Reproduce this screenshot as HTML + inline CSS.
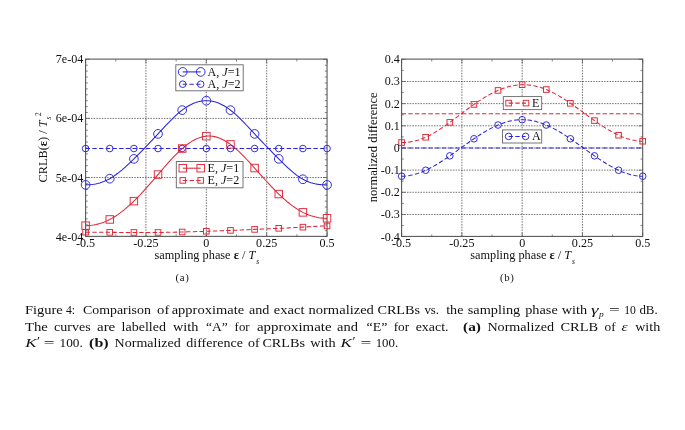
<!DOCTYPE html>
<html><head><meta charset="utf-8"><title>Figure 4</title>
<style>html,body{margin:0;padding:0;background:#fff}body{width:685px;height:430px;overflow:hidden}svg{display:block}</style>
</head><body>
<svg width="685" height="430" viewBox="0 0 685 430" font-family="'Liberation Serif', serif" fill="#111">
<path d="M145.96 59.3V236.6M206.32 59.3V236.6M266.69 59.3V236.6M85.6 177.5H327.05M85.6 118.4H327.05" fill="none" stroke="#333" stroke-width="0.7" stroke-dasharray="1.5 1.2"/>
<path d="M85.6 236.6v-4M85.6 59.3v4M145.96 236.6v-4M145.96 59.3v4M206.32 236.6v-4M206.32 59.3v4M266.69 236.6v-4M266.69 59.3v4M327.05 236.6v-4M327.05 59.3v4M115.78 236.6v-2.2M115.78 59.3v2.2M176.14 236.6v-2.2M176.14 59.3v2.2M236.51 236.6v-2.2M236.51 59.3v2.2M296.87 236.6v-2.2M296.87 59.3v2.2M85.6 236.6h4M327.05 236.6h-4M85.6 177.5h4M327.05 177.5h-4M85.6 118.4h4M327.05 118.4h-4M85.6 59.3h4M327.05 59.3h-4M85.6 230.69h2.2M327.05 230.69h-2.2M85.6 224.78h2.2M327.05 224.78h-2.2M85.6 218.87h2.2M327.05 218.87h-2.2M85.6 212.96h2.2M327.05 212.96h-2.2M85.6 207.05h2.2M327.05 207.05h-2.2M85.6 201.14h2.2M327.05 201.14h-2.2M85.6 195.23h2.2M327.05 195.23h-2.2M85.6 189.32h2.2M327.05 189.32h-2.2M85.6 183.41h2.2M327.05 183.41h-2.2M85.6 171.59h2.2M327.05 171.59h-2.2M85.6 165.68h2.2M327.05 165.68h-2.2M85.6 159.77h2.2M327.05 159.77h-2.2M85.6 153.86h2.2M327.05 153.86h-2.2M85.6 147.95h2.2M327.05 147.95h-2.2M85.6 142.04h2.2M327.05 142.04h-2.2M85.6 136.13h2.2M327.05 136.13h-2.2M85.6 130.22h2.2M327.05 130.22h-2.2M85.6 124.31h2.2M327.05 124.31h-2.2M85.6 112.49h2.2M327.05 112.49h-2.2M85.6 106.58h2.2M327.05 106.58h-2.2M85.6 100.67h2.2M327.05 100.67h-2.2M85.6 94.76h2.2M327.05 94.76h-2.2M85.6 88.85h2.2M327.05 88.85h-2.2M85.6 82.94h2.2M327.05 82.94h-2.2M85.6 77.03h2.2M327.05 77.03h-2.2M85.6 71.12h2.2M327.05 71.12h-2.2M85.6 65.21h2.2M327.05 65.21h-2.2" fill="none" stroke="#505050" stroke-width="0.7"/>
<rect x="85.6" y="59.1" width="241.45" height="177.25" fill="none" stroke="#505050" stroke-width="1.05"/>
<path d="M85.6 148.54L109.74 148.54L133.89 148.54L158.03 148.54L182.18 148.54L206.32 148.54L230.47 148.54L254.62 148.54L278.76 148.54L302.9 148.54L327.05 148.54" fill="none" stroke="#2a24d6" stroke-width="1.05" stroke-dasharray="4.4 2.3" stroke-linejoin="round"/>
<path d="M85.6 232.17L87.61 232.17L89.62 232.18L91.64 232.19L93.65 232.2L95.66 232.21L97.67 232.23L99.68 232.25L101.7 232.27L103.71 232.29L105.72 232.31L107.73 232.33L109.74 232.34L111.76 232.36L113.77 232.37L115.78 232.39L117.79 232.4L119.81 232.41L121.82 232.42L123.83 232.43L125.84 232.43L127.85 232.44L129.87 232.45L131.88 232.46L133.89 232.46L135.9 232.47L137.91 232.48L139.93 232.49L141.94 232.49L143.95 232.5L145.96 232.5L147.97 232.5L149.99 232.5L152 232.5L154.01 232.49L156.02 232.48L158.03 232.46L160.05 232.44L162.06 232.42L164.07 232.39L166.08 232.35L168.1 232.32L170.11 232.28L172.12 232.24L174.13 232.19L176.14 232.14L178.16 232.09L180.17 232.04L182.18 231.99L184.19 231.94L186.2 231.88L188.22 231.83L190.23 231.77L192.24 231.71L194.25 231.66L196.26 231.6L198.28 231.54L200.29 231.47L202.3 231.41L204.31 231.35L206.32 231.28L208.34 231.21L210.35 231.14L212.36 231.07L214.37 231L216.39 230.93L218.4 230.86L220.41 230.78L222.42 230.71L224.43 230.63L226.45 230.55L228.46 230.47L230.47 230.39L232.48 230.31L234.49 230.23L236.51 230.15L238.52 230.07L240.53 229.99L242.54 229.9L244.55 229.82L246.57 229.74L248.58 229.65L250.59 229.56L252.6 229.48L254.62 229.39L256.63 229.3L258.64 229.21L260.65 229.12L262.66 229.04L264.68 228.95L266.69 228.86L268.7 228.77L270.71 228.68L272.72 228.59L274.74 228.5L276.75 228.41L278.76 228.33L280.77 228.24L282.78 228.15L284.8 228.07L286.81 227.98L288.82 227.89L290.83 227.79L292.84 227.7L294.86 227.6L296.87 227.49L298.88 227.38L300.89 227.27L302.9 227.14L304.92 227.01L306.93 226.88L308.94 226.75L310.95 226.61L312.97 226.48L314.98 226.36L316.99 226.25L319 226.16L321.01 226.08L323.03 226.01L325.04 225.98L327.05 225.96" fill="none" stroke="#e22636" stroke-width="1.05" stroke-dasharray="4.4 2.3" stroke-linejoin="round"/>
<path d="M85.6 184.89L87.61 184.85L89.62 184.74L91.64 184.55L93.65 184.28L95.66 183.93L97.67 183.48L99.68 182.94L101.7 182.3L103.71 181.56L105.72 180.71L107.73 179.76L109.74 178.68L111.76 177.49L113.77 176.19L115.78 174.79L117.79 173.29L119.81 171.71L121.82 170.05L123.83 168.31L125.84 166.52L127.85 164.67L129.87 162.78L131.88 160.85L133.89 158.88L135.9 156.9L137.91 154.89L139.93 152.87L141.94 150.82L143.95 148.76L145.96 146.68L147.97 144.58L149.99 142.47L152 140.34L154.01 138.2L156.02 136.05L158.03 133.88L160.05 131.71L162.06 129.54L164.07 127.37L166.08 125.23L168.1 123.12L170.11 121.05L172.12 119.03L174.13 117.08L176.14 115.2L178.16 113.41L180.17 111.72L182.18 110.13L184.19 108.65L186.2 107.3L188.22 106.06L190.23 104.95L192.24 103.96L194.25 103.1L196.26 102.37L198.28 101.76L200.29 101.29L202.3 100.95L204.31 100.74L206.32 100.67L208.34 100.74L210.35 100.94L212.36 101.28L214.37 101.75L216.39 102.36L218.4 103.09L220.41 103.95L222.42 104.94L224.43 106.06L226.45 107.29L228.46 108.65L230.47 110.13L232.48 111.72L234.49 113.42L236.51 115.22L238.52 117.1L240.53 119.05L242.54 121.07L244.55 123.14L246.57 125.25L248.58 127.39L250.59 129.55L252.6 131.72L254.62 133.88L256.63 136.04L258.64 138.17L260.65 140.3L262.66 142.41L264.68 144.51L266.69 146.6L268.7 148.67L270.71 150.74L272.72 152.79L274.74 154.83L276.75 156.86L278.76 158.88L280.77 160.89L282.78 162.88L284.8 164.84L286.81 166.76L288.82 168.62L290.83 170.42L292.84 172.15L294.86 173.79L296.87 175.33L298.88 176.77L300.89 178.08L302.9 179.27L304.92 180.33L306.93 181.25L308.94 182.04L310.95 182.72L312.97 183.29L314.98 183.76L316.99 184.14L319 184.43L321.01 184.64L323.03 184.78L325.04 184.86L327.05 184.89" fill="none" stroke="#2a24d6" stroke-width="1.05" stroke-linejoin="round"/>
<path d="M85.6 225.67L87.61 225.62L89.62 225.5L91.64 225.28L93.65 224.99L95.66 224.6L97.67 224.13L99.68 223.57L101.7 222.93L103.71 222.19L105.72 221.37L107.73 220.46L109.74 219.46L111.76 218.37L113.77 217.2L115.78 215.94L117.79 214.6L119.81 213.17L121.82 211.67L123.83 210.09L125.84 208.44L127.85 206.72L129.87 204.93L131.88 203.07L133.89 201.14L135.9 199.15L137.91 197.11L139.93 195.01L141.94 192.86L143.95 190.67L145.96 188.44L147.97 186.18L149.99 183.89L152 181.58L154.01 179.24L156.02 176.9L158.03 174.55L160.05 172.19L162.06 169.84L164.07 167.5L166.08 165.18L168.1 162.9L170.11 160.65L172.12 158.46L174.13 156.33L176.14 154.26L178.16 152.26L180.17 150.36L182.18 148.54L184.19 146.83L186.2 145.22L188.22 143.73L190.23 142.35L192.24 141.1L194.25 139.97L196.26 138.97L198.28 138.11L200.29 137.39L202.3 136.82L204.31 136.4L206.32 136.13L208.34 136.02L210.35 136.07L212.36 136.27L214.37 136.63L216.39 137.12L218.4 137.77L220.41 138.55L222.42 139.46L224.43 140.51L226.45 141.68L228.46 142.98L230.47 144.4L232.48 145.94L234.49 147.59L236.51 149.33L238.52 151.17L240.53 153.09L242.54 155.08L244.55 157.13L246.57 159.24L248.58 161.4L250.59 163.59L252.6 165.81L254.62 168.04L256.63 170.29L258.64 172.55L260.65 174.8L262.66 177.04L264.68 179.27L266.69 181.48L268.7 183.67L270.71 185.83L272.72 187.95L274.74 190.03L276.75 192.07L278.76 194.05L280.77 195.97L282.78 197.83L284.8 199.63L286.81 201.36L288.82 203.01L290.83 204.6L292.84 206.1L294.86 207.53L296.87 208.87L298.88 210.13L300.89 211.3L302.9 212.37L304.92 213.35L306.93 214.23L308.94 215.02L310.95 215.73L312.97 216.34L314.98 216.86L316.99 217.3L319 217.66L321.01 217.93L323.03 218.13L325.04 218.24L327.05 218.28" fill="none" stroke="#e22636" stroke-width="1.05" stroke-linejoin="round"/>
<circle cx="85.6" cy="148.54" r="3.3" fill="none" stroke="#2a24d6" stroke-width="0.95"/>
<circle cx="109.74" cy="148.54" r="3.3" fill="none" stroke="#2a24d6" stroke-width="0.95"/>
<circle cx="133.89" cy="148.54" r="3.3" fill="none" stroke="#2a24d6" stroke-width="0.95"/>
<circle cx="158.03" cy="148.54" r="3.3" fill="none" stroke="#2a24d6" stroke-width="0.95"/>
<circle cx="182.18" cy="148.54" r="3.3" fill="none" stroke="#2a24d6" stroke-width="0.95"/>
<circle cx="206.32" cy="148.54" r="3.3" fill="none" stroke="#2a24d6" stroke-width="0.95"/>
<circle cx="230.47" cy="148.54" r="3.3" fill="none" stroke="#2a24d6" stroke-width="0.95"/>
<circle cx="254.62" cy="148.54" r="3.3" fill="none" stroke="#2a24d6" stroke-width="0.95"/>
<circle cx="278.76" cy="148.54" r="3.3" fill="none" stroke="#2a24d6" stroke-width="0.95"/>
<circle cx="302.9" cy="148.54" r="3.3" fill="none" stroke="#2a24d6" stroke-width="0.95"/>
<circle cx="327.05" cy="148.54" r="3.3" fill="none" stroke="#2a24d6" stroke-width="0.95"/>
<rect x="82.8" y="229.37" width="5.6" height="5.6" fill="none" stroke="#e22636" stroke-width="0.95"/>
<rect x="106.94" y="229.54" width="5.6" height="5.6" fill="none" stroke="#e22636" stroke-width="0.95"/>
<rect x="131.09" y="229.66" width="5.6" height="5.6" fill="none" stroke="#e22636" stroke-width="0.95"/>
<rect x="155.23" y="229.66" width="5.6" height="5.6" fill="none" stroke="#e22636" stroke-width="0.95"/>
<rect x="179.38" y="229.19" width="5.6" height="5.6" fill="none" stroke="#e22636" stroke-width="0.95"/>
<rect x="203.52" y="228.48" width="5.6" height="5.6" fill="none" stroke="#e22636" stroke-width="0.95"/>
<rect x="227.67" y="227.59" width="5.6" height="5.6" fill="none" stroke="#e22636" stroke-width="0.95"/>
<rect x="251.81" y="226.59" width="5.6" height="5.6" fill="none" stroke="#e22636" stroke-width="0.95"/>
<rect x="275.96" y="225.53" width="5.6" height="5.6" fill="none" stroke="#e22636" stroke-width="0.95"/>
<rect x="300.1" y="224.34" width="5.6" height="5.6" fill="none" stroke="#e22636" stroke-width="0.95"/>
<rect x="324.25" y="223.16" width="5.6" height="5.6" fill="none" stroke="#e22636" stroke-width="0.95"/>
<circle cx="85.6" cy="184.89" r="4.35" fill="none" stroke="#2a24d6" stroke-width="0.95"/>
<circle cx="109.74" cy="178.68" r="4.35" fill="none" stroke="#2a24d6" stroke-width="0.95"/>
<circle cx="133.89" cy="158.88" r="4.35" fill="none" stroke="#2a24d6" stroke-width="0.95"/>
<circle cx="158.03" cy="133.88" r="4.35" fill="none" stroke="#2a24d6" stroke-width="0.95"/>
<circle cx="182.18" cy="110.13" r="4.35" fill="none" stroke="#2a24d6" stroke-width="0.95"/>
<circle cx="206.32" cy="100.67" r="4.35" fill="none" stroke="#2a24d6" stroke-width="0.95"/>
<circle cx="230.47" cy="110.13" r="4.35" fill="none" stroke="#2a24d6" stroke-width="0.95"/>
<circle cx="254.62" cy="133.88" r="4.35" fill="none" stroke="#2a24d6" stroke-width="0.95"/>
<circle cx="278.76" cy="158.88" r="4.35" fill="none" stroke="#2a24d6" stroke-width="0.95"/>
<circle cx="302.9" cy="179.27" r="4.35" fill="none" stroke="#2a24d6" stroke-width="0.95"/>
<circle cx="327.05" cy="184.89" r="4.35" fill="none" stroke="#2a24d6" stroke-width="0.95"/>
<rect x="81.85" y="221.92" width="7.5" height="7.5" fill="none" stroke="#e22636" stroke-width="0.95"/>
<rect x="105.99" y="215.71" width="7.5" height="7.5" fill="none" stroke="#e22636" stroke-width="0.95"/>
<rect x="130.14" y="197.39" width="7.5" height="7.5" fill="none" stroke="#e22636" stroke-width="0.95"/>
<rect x="154.28" y="170.8" width="7.5" height="7.5" fill="none" stroke="#e22636" stroke-width="0.95"/>
<rect x="178.43" y="144.79" width="7.5" height="7.5" fill="none" stroke="#e22636" stroke-width="0.95"/>
<rect x="202.57" y="132.38" width="7.5" height="7.5" fill="none" stroke="#e22636" stroke-width="0.95"/>
<rect x="226.72" y="140.65" width="7.5" height="7.5" fill="none" stroke="#e22636" stroke-width="0.95"/>
<rect x="250.87" y="164.29" width="7.5" height="7.5" fill="none" stroke="#e22636" stroke-width="0.95"/>
<rect x="275.01" y="190.3" width="7.5" height="7.5" fill="none" stroke="#e22636" stroke-width="0.95"/>
<rect x="299.15" y="208.62" width="7.5" height="7.5" fill="none" stroke="#e22636" stroke-width="0.95"/>
<rect x="323.3" y="214.53" width="7.5" height="7.5" fill="none" stroke="#e22636" stroke-width="0.95"/>
<text x="83.3" y="240.6" text-anchor="end" font-size="12.1">4e-04</text>
<text x="83.3" y="181.5" text-anchor="end" font-size="12.1">5e-04</text>
<text x="83.3" y="122.4" text-anchor="end" font-size="12.1">6e-04</text>
<text x="83.3" y="63.3" text-anchor="end" font-size="12.1">7e-04</text>
<text x="85.6" y="247.2" text-anchor="middle" font-size="12.1">-0.5</text>
<text x="145.96" y="247.2" text-anchor="middle" font-size="12.1">-0.25</text>
<text x="206.32" y="247.2" text-anchor="middle" font-size="12.1">0</text>
<text x="266.69" y="247.2" text-anchor="middle" font-size="12.1">0.25</text>
<text x="327.05" y="247.2" text-anchor="middle" font-size="12.1">0.5</text>
<rect x="175.8" y="64.8" width="67.4" height="26" fill="#fff" stroke="#666" stroke-width="0.9"/>
<path d="M182.7 71.9H200.7" stroke="#2a24d6" stroke-width="1.05" fill="none"/>
<circle cx="182.7" cy="71.9" r="4.35" fill="none" stroke="#2a24d6" stroke-width="0.95"/>
<circle cx="200.7" cy="71.9" r="4.35" fill="none" stroke="#2a24d6" stroke-width="0.95"/>
<text x="207.5" y="75.9" text-anchor="start" font-size="12.1">A, <tspan font-style="italic">J</tspan>=1</text>
<path d="M182.7 84.2H200.7" stroke="#2a24d6" stroke-width="1.05" stroke-dasharray="4.4 2.3" fill="none"/>
<circle cx="182.7" cy="84.2" r="3.3" fill="none" stroke="#2a24d6" stroke-width="0.95"/>
<circle cx="200.7" cy="84.2" r="3.3" fill="none" stroke="#2a24d6" stroke-width="0.95"/>
<text x="207.5" y="88.2" text-anchor="start" font-size="12.1">A, <tspan font-style="italic">J</tspan>=2</text>
<rect x="176.3" y="161.5" width="66.7" height="26.3" fill="#fff" stroke="#666" stroke-width="0.9"/>
<path d="M182.8 168.2H200.7" stroke="#e22636" stroke-width="1.05" fill="none"/>
<rect x="179.05" y="164.45" width="7.5" height="7.5" fill="none" stroke="#e22636" stroke-width="0.95"/>
<rect x="196.95" y="164.45" width="7.5" height="7.5" fill="none" stroke="#e22636" stroke-width="0.95"/>
<text x="207.5" y="172.2" text-anchor="start" font-size="12.1">E, <tspan font-style="italic">J</tspan>=1</text>
<path d="M182.8 180.4H200.7" stroke="#e22636" stroke-width="1.05" stroke-dasharray="4.4 2.3" fill="none"/>
<rect x="180" y="177.6" width="5.6" height="5.6" fill="none" stroke="#e22636" stroke-width="0.95"/>
<rect x="197.9" y="177.6" width="5.6" height="5.6" fill="none" stroke="#e22636" stroke-width="0.95"/>
<text x="207.5" y="184.4" text-anchor="start" font-size="12.1">E, <tspan font-style="italic">J</tspan>=2</text>
<text x="206.8" y="258.9" text-anchor="middle" font-size="12.3">sampling phase <tspan font-weight="bold">ε</tspan> / <tspan font-style="italic">T</tspan><tspan font-style="italic" font-size="7.5" dx="0.9" dy="5">s</tspan></text>
<text transform="translate(47.2 182.4) rotate(-90)" font-size="12.3">CRLB(<tspan font-weight="bold">ε</tspan>) / <tspan font-style="italic">T</tspan><tspan font-style="italic" font-size="7.5" dx="1" dy="4.2">s</tspan><tspan font-size="7.5" dx="0.6" dy="-10.6">2</tspan></text>
<text x="182.5" y="280.5" text-anchor="middle" font-size="10.8" letter-spacing="0.6">(a)</text>
<path d="M461.88 59.3V236.65M522.15 59.3V236.65M582.43 59.3V236.65M401.6 214.48H642.7M401.6 192.31H642.7M401.6 170.14H642.7M401.6 147.97H642.7M401.6 125.81H642.7M401.6 103.64H642.7M401.6 81.47H642.7" fill="none" stroke="#333" stroke-width="0.7" stroke-dasharray="1.5 1.2"/>
<path d="M401.6 236.65v-4M401.6 59.3v4M461.88 236.65v-4M461.88 59.3v4M522.15 236.65v-4M522.15 59.3v4M582.43 236.65v-4M582.43 59.3v4M642.7 236.65v-4M642.7 59.3v4M431.74 236.65v-2.2M431.74 59.3v2.2M492.01 236.65v-2.2M492.01 59.3v2.2M552.29 236.65v-2.2M552.29 59.3v2.2M612.56 236.65v-2.2M612.56 59.3v2.2M401.6 236.65h4M642.7 236.65h-4M401.6 214.48h4M642.7 214.48h-4M401.6 192.31h4M642.7 192.31h-4M401.6 170.14h4M642.7 170.14h-4M401.6 147.97h4M642.7 147.97h-4M401.6 125.81h4M642.7 125.81h-4M401.6 103.64h4M642.7 103.64h-4M401.6 81.47h4M642.7 81.47h-4M401.6 59.3h4M642.7 59.3h-4M401.6 225.57h2.2M642.7 225.57h-2.2M401.6 203.4h2.2M642.7 203.4h-2.2M401.6 181.23h2.2M642.7 181.23h-2.2M401.6 159.06h2.2M642.7 159.06h-2.2M401.6 136.89h2.2M642.7 136.89h-2.2M401.6 114.72h2.2M642.7 114.72h-2.2M401.6 92.55h2.2M642.7 92.55h-2.2M401.6 70.38h2.2M642.7 70.38h-2.2" fill="none" stroke="#505050" stroke-width="0.7"/>
<rect x="401.6" y="59.1" width="241.1" height="177.3" fill="none" stroke="#505050" stroke-width="1.05"/>
<path d="M401.6 113.72L642.7 113.72" fill="none" stroke="#e22636" stroke-width="1.05" stroke-dasharray="4.4 2.3" stroke-linejoin="round"/>
<path d="M401.6 147.97L642.7 147.97" fill="none" stroke="#2a24d6" stroke-width="1.05" stroke-dasharray="4.4 2.3" stroke-linejoin="round"/>
<path d="M401.6 142.54L403.61 142.51L405.62 142.4L407.63 142.21L409.64 141.96L411.65 141.63L413.66 141.22L415.66 140.74L417.67 140.19L419.68 139.56L421.69 138.86L423.7 138.08L425.71 137.22L427.72 136.29L429.73 135.29L431.74 134.23L433.75 133.1L435.76 131.91L437.77 130.67L439.77 129.38L441.78 128.05L443.79 126.68L445.8 125.27L447.81 123.83L449.82 122.37L451.83 120.88L453.84 119.38L455.85 117.87L457.86 116.34L459.87 114.82L461.88 113.29L463.88 111.77L465.89 110.26L467.9 108.77L469.91 107.29L471.92 105.84L473.93 104.41L475.94 103.02L477.95 101.66L479.96 100.34L481.97 99.06L483.98 97.82L485.99 96.62L487.99 95.47L490 94.36L492.01 93.3L494.02 92.3L496.03 91.34L498.04 90.45L500.05 89.61L502.06 88.83L504.07 88.11L506.08 87.45L508.09 86.86L510.1 86.33L512.1 85.87L514.11 85.49L516.12 85.17L518.13 84.93L520.14 84.77L522.15 84.68L524.16 84.68L526.17 84.75L528.18 84.9L530.19 85.13L532.2 85.43L534.21 85.81L536.21 86.26L538.22 86.78L540.23 87.37L542.24 88.03L544.25 88.76L546.26 89.56L548.27 90.42L550.28 91.35L552.29 92.34L554.3 93.38L556.31 94.47L558.32 95.61L560.32 96.8L562.33 98.03L564.34 99.3L566.35 100.6L568.36 101.94L570.37 103.3L572.38 104.69L574.39 106.11L576.4 107.53L578.41 108.98L580.42 110.43L582.43 111.89L584.43 113.36L586.44 114.82L588.45 116.28L590.46 117.73L592.47 119.17L594.48 120.6L596.49 122L598.5 123.39L600.51 124.75L602.52 126.08L604.53 127.38L606.54 128.64L608.54 129.86L610.55 131.03L612.56 132.16L614.57 133.24L616.58 134.26L618.59 135.23L620.6 136.13L622.61 136.97L624.62 137.74L626.63 138.44L628.64 139.07L630.64 139.62L632.65 140.1L634.66 140.49L636.67 140.8L638.68 141.03L640.69 141.17L642.7 141.21" fill="none" stroke="#e22636" stroke-width="1.05" stroke-dasharray="4.4 2.3" stroke-linejoin="round"/>
<path d="M401.6 176.24L403.61 176.19L405.62 176.05L407.63 175.83L409.64 175.51L411.65 175.11L413.66 174.64L415.66 174.08L417.67 173.45L419.68 172.75L421.69 171.98L423.7 171.15L425.71 170.25L427.72 169.3L429.73 168.29L431.74 167.23L433.75 166.11L435.76 164.95L437.77 163.75L439.77 162.51L441.78 161.24L443.79 159.93L445.8 158.59L447.81 157.23L449.82 155.84L451.83 154.44L453.84 153.02L455.85 151.59L457.86 150.15L459.87 148.71L461.88 147.26L463.88 145.82L465.89 144.39L467.9 142.96L469.91 141.55L471.92 140.15L473.93 138.77L475.94 137.42L477.95 136.1L479.96 134.8L481.97 133.54L483.98 132.32L485.99 131.13L487.99 129.99L490 128.89L492.01 127.85L494.02 126.85L496.03 125.91L498.04 125.03L500.05 124.21L502.06 123.46L504.07 122.76L506.08 122.14L508.09 121.58L510.1 121.09L512.1 120.68L514.11 120.33L516.12 120.06L518.13 119.87L520.14 119.75L522.15 119.71L524.16 119.75L526.17 119.87L528.18 120.06L530.19 120.33L532.2 120.68L534.21 121.09L536.21 121.58L538.22 122.14L540.23 122.76L542.24 123.46L544.25 124.21L546.26 125.03L548.27 125.91L550.28 126.85L552.29 127.85L554.3 128.89L556.31 129.99L558.32 131.13L560.32 132.32L562.33 133.54L564.34 134.8L566.35 136.1L568.36 137.42L570.37 138.77L572.38 140.15L574.39 141.55L576.4 142.96L578.41 144.39L580.42 145.82L582.43 147.26L584.43 148.71L586.44 150.15L588.45 151.59L590.46 153.02L592.47 154.44L594.48 155.84L596.49 157.23L598.5 158.59L600.51 159.93L602.52 161.24L604.53 162.51L606.54 163.75L608.54 164.95L610.55 166.11L612.56 167.23L614.57 168.29L616.58 169.3L618.59 170.25L620.6 171.15L622.61 171.98L624.62 172.75L626.63 173.45L628.64 174.08L630.64 174.64L632.65 175.11L634.66 175.51L636.67 175.83L638.68 176.05L640.69 176.19L642.7 176.24" fill="none" stroke="#2a24d6" stroke-width="1.05" stroke-dasharray="4.4 2.3" stroke-linejoin="round"/>
<rect x="398.8" y="139.74" width="5.6" height="5.6" fill="none" stroke="#e22636" stroke-width="0.95"/>
<rect x="422.91" y="134.42" width="5.6" height="5.6" fill="none" stroke="#e22636" stroke-width="0.95"/>
<rect x="447.02" y="119.57" width="5.6" height="5.6" fill="none" stroke="#e22636" stroke-width="0.95"/>
<rect x="471.13" y="101.61" width="5.6" height="5.6" fill="none" stroke="#e22636" stroke-width="0.95"/>
<rect x="495.24" y="87.65" width="5.6" height="5.6" fill="none" stroke="#e22636" stroke-width="0.95"/>
<rect x="519.35" y="81.88" width="5.6" height="5.6" fill="none" stroke="#e22636" stroke-width="0.95"/>
<rect x="543.46" y="86.76" width="5.6" height="5.6" fill="none" stroke="#e22636" stroke-width="0.95"/>
<rect x="567.57" y="100.5" width="5.6" height="5.6" fill="none" stroke="#e22636" stroke-width="0.95"/>
<rect x="591.68" y="117.8" width="5.6" height="5.6" fill="none" stroke="#e22636" stroke-width="0.95"/>
<rect x="615.79" y="132.43" width="5.6" height="5.6" fill="none" stroke="#e22636" stroke-width="0.95"/>
<rect x="639.9" y="138.41" width="5.6" height="5.6" fill="none" stroke="#e22636" stroke-width="0.95"/>
<circle cx="401.6" cy="176.24" r="3.3" fill="none" stroke="#2a24d6" stroke-width="0.95"/>
<circle cx="425.71" cy="170.25" r="3.3" fill="none" stroke="#2a24d6" stroke-width="0.95"/>
<circle cx="449.82" cy="155.84" r="3.3" fill="none" stroke="#2a24d6" stroke-width="0.95"/>
<circle cx="473.93" cy="138.77" r="3.3" fill="none" stroke="#2a24d6" stroke-width="0.95"/>
<circle cx="498.04" cy="125.03" r="3.3" fill="none" stroke="#2a24d6" stroke-width="0.95"/>
<circle cx="522.15" cy="119.71" r="3.3" fill="none" stroke="#2a24d6" stroke-width="0.95"/>
<circle cx="546.26" cy="125.03" r="3.3" fill="none" stroke="#2a24d6" stroke-width="0.95"/>
<circle cx="570.37" cy="138.77" r="3.3" fill="none" stroke="#2a24d6" stroke-width="0.95"/>
<circle cx="594.48" cy="155.84" r="3.3" fill="none" stroke="#2a24d6" stroke-width="0.95"/>
<circle cx="618.59" cy="170.25" r="3.3" fill="none" stroke="#2a24d6" stroke-width="0.95"/>
<circle cx="642.7" cy="176.24" r="3.3" fill="none" stroke="#2a24d6" stroke-width="0.95"/>
<text x="399.9" y="240.65" text-anchor="end" font-size="12.1">-0.4</text>
<text x="399.9" y="218.48" text-anchor="end" font-size="12.1">-0.3</text>
<text x="399.9" y="196.31" text-anchor="end" font-size="12.1">-0.2</text>
<text x="399.9" y="174.14" text-anchor="end" font-size="12.1">-0.1</text>
<text x="399.9" y="151.97" text-anchor="end" font-size="12.1">0</text>
<text x="399.9" y="129.81" text-anchor="end" font-size="12.1">0.1</text>
<text x="399.9" y="107.64" text-anchor="end" font-size="12.1">0.2</text>
<text x="399.9" y="85.47" text-anchor="end" font-size="12.1">0.3</text>
<text x="399.9" y="63.3" text-anchor="end" font-size="12.1">0.4</text>
<text x="401.6" y="247.2" text-anchor="middle" font-size="12.1">-0.5</text>
<text x="461.88" y="247.2" text-anchor="middle" font-size="12.1">-0.25</text>
<text x="522.15" y="247.2" text-anchor="middle" font-size="12.1">0</text>
<text x="582.43" y="247.2" text-anchor="middle" font-size="12.1">0.25</text>
<text x="642.7" y="247.2" text-anchor="middle" font-size="12.1">0.5</text>
<rect x="503.3" y="96.6" width="38.4" height="13" fill="#fff" stroke="#666" stroke-width="0.9"/>
<path d="M508.6 103.1H526" stroke="#e22636" stroke-width="1.05" stroke-dasharray="4.4 2.3" fill="none"/>
<rect x="505.8" y="100.3" width="5.6" height="5.6" fill="none" stroke="#e22636" stroke-width="0.95"/>
<rect x="523.2" y="100.3" width="5.6" height="5.6" fill="none" stroke="#e22636" stroke-width="0.95"/>
<text x="532" y="107.1" text-anchor="start" font-size="12.1">E</text>
<rect x="502.5" y="129.9" width="39.2" height="13.1" fill="#fff" stroke="#666" stroke-width="0.9"/>
<path d="M508.6 136.4H525.6" stroke="#2a24d6" stroke-width="1.05" stroke-dasharray="4.4 2.3" fill="none"/>
<circle cx="508.6" cy="136.4" r="3.3" fill="none" stroke="#2a24d6" stroke-width="0.95"/>
<circle cx="525.6" cy="136.4" r="3.3" fill="none" stroke="#2a24d6" stroke-width="0.95"/>
<text x="532" y="140.4" text-anchor="start" font-size="12.1">A</text>
<text x="522.6" y="258.9" text-anchor="middle" font-size="12.3">sampling phase <tspan font-weight="bold">ε</tspan> / <tspan font-style="italic">T</tspan><tspan font-style="italic" font-size="7.5" dx="0.9" dy="5">s</tspan></text>
<text transform="translate(377.3 147.3) rotate(-90)" font-size="12.5" text-anchor="middle">normalized difference</text>
<text x="507.3" y="280.5" text-anchor="middle" font-size="10.8" letter-spacing="0.6">(b)</text>
<text transform="translate(0 314.3) scale(1.05 1)" font-size="13.3"><tspan x="23.71" textLength="36" lengthAdjust="spacingAndGlyphs">Figure</tspan><tspan x="62.76" textLength="8.67" lengthAdjust="spacingAndGlyphs">4:</tspan><tspan x="79.05" textLength="64.67" lengthAdjust="spacingAndGlyphs">Comparison</tspan><tspan x="149.62" textLength="11.62" lengthAdjust="spacingAndGlyphs">of</tspan><tspan x="163.52" textLength="68.95" lengthAdjust="spacingAndGlyphs">approximate</tspan><tspan x="237.05" textLength="19.43" lengthAdjust="spacingAndGlyphs">and</tspan><tspan x="260.76" textLength="29.24" lengthAdjust="spacingAndGlyphs">exact</tspan><tspan x="293.81" textLength="62.29" lengthAdjust="spacingAndGlyphs">normalized</tspan><tspan x="359.43" textLength="40.67" lengthAdjust="spacingAndGlyphs">CRLBs</tspan><tspan x="404.19" textLength="13.9" lengthAdjust="spacingAndGlyphs">vs.</tspan><tspan x="424.95" textLength="16.38" lengthAdjust="spacingAndGlyphs">the</tspan><tspan x="445.52" textLength="50" lengthAdjust="spacingAndGlyphs">sampling</tspan><tspan x="500.19" textLength="31.05" lengthAdjust="spacingAndGlyphs">phase</tspan><tspan x="535.05" textLength="24.19" lengthAdjust="spacingAndGlyphs">with</tspan><tspan x="562.95" font-style="italic" textLength="7.24" lengthAdjust="spacingAndGlyphs">γ</tspan><tspan x="570.38" font-style="italic"><tspan font-size="9" dy="2.6">p</tspan></tspan><tspan x="580" dy="-2.6" textLength="10.29" lengthAdjust="spacingAndGlyphs">=</tspan><tspan x="594.57" textLength="11.05" lengthAdjust="spacingAndGlyphs">10</tspan><tspan x="608.95" textLength="17.43" lengthAdjust="spacingAndGlyphs">dB.</tspan></text>
<text transform="translate(0 330.5) scale(1.05 1)" font-size="13.3"><tspan x="23.71" textLength="21.81" lengthAdjust="spacingAndGlyphs">The</tspan><tspan x="51.52" textLength="34.86" lengthAdjust="spacingAndGlyphs">curves</tspan><tspan x="92.38" textLength="17.43" lengthAdjust="spacingAndGlyphs">are</tspan><tspan x="115.81" textLength="42.29" lengthAdjust="spacingAndGlyphs">labelled</tspan><tspan x="164.76" textLength="24.19" lengthAdjust="spacingAndGlyphs">with</tspan><tspan x="196.29" textLength="20.67" lengthAdjust="spacingAndGlyphs">“A”</tspan><tspan x="223.43" textLength="14.29" lengthAdjust="spacingAndGlyphs">for</tspan><tspan x="244.76" textLength="71.05" lengthAdjust="spacingAndGlyphs">approximate</tspan><tspan x="321.05" textLength="19.9" lengthAdjust="spacingAndGlyphs">and</tspan><tspan x="349.05" textLength="19.81" lengthAdjust="spacingAndGlyphs">“E”</tspan><tspan x="374.95" textLength="14.76" lengthAdjust="spacingAndGlyphs">for</tspan><tspan x="395.9" textLength="31.33" lengthAdjust="spacingAndGlyphs">exact.</tspan><tspan x="441.05" font-weight="bold" textLength="16.95" lengthAdjust="spacingAndGlyphs">(a)</tspan><tspan x="464.19" textLength="63.52" lengthAdjust="spacingAndGlyphs">Normalized</tspan><tspan x="533.71" textLength="35.9" lengthAdjust="spacingAndGlyphs">CRLB</tspan><tspan x="575.81" textLength="10.57" lengthAdjust="spacingAndGlyphs">of</tspan><tspan x="591.81" font-style="italic" textLength="5.81" lengthAdjust="spacingAndGlyphs">ε</tspan><tspan x="604.95" textLength="23.81" lengthAdjust="spacingAndGlyphs">with</tspan></text>
<text transform="translate(0 346.7) scale(1.05 1)" font-size="13.3"><tspan x="24" font-style="italic" textLength="10.86" lengthAdjust="spacingAndGlyphs">K</tspan><tspan x="35.14" dy="-1.5">′</tspan><tspan x="41.71" dy="1.5" textLength="10.29" lengthAdjust="spacingAndGlyphs">=</tspan><tspan x="56.76" textLength="22.1" lengthAdjust="spacingAndGlyphs">100.</tspan><tspan x="84.86" font-weight="bold" textLength="18.67" lengthAdjust="spacingAndGlyphs">(b)</tspan><tspan x="109.14" textLength="63.05" lengthAdjust="spacingAndGlyphs">Normalized</tspan><tspan x="177.43" textLength="53.9" lengthAdjust="spacingAndGlyphs">difference</tspan><tspan x="236.29" textLength="11.05" lengthAdjust="spacingAndGlyphs">of</tspan><tspan x="249.9" textLength="40.57" lengthAdjust="spacingAndGlyphs">CRLBs</tspan><tspan x="295.43" textLength="24.19" lengthAdjust="spacingAndGlyphs">with</tspan><tspan x="324.19" font-style="italic" textLength="10.86" lengthAdjust="spacingAndGlyphs">K</tspan><tspan x="335.81" dy="-1.5">′</tspan><tspan x="343.43" dy="1.5" textLength="10.29" lengthAdjust="spacingAndGlyphs">=</tspan><tspan x="357.81" textLength="21.43" lengthAdjust="spacingAndGlyphs">100.</tspan></text>
</svg>
</body></html>
